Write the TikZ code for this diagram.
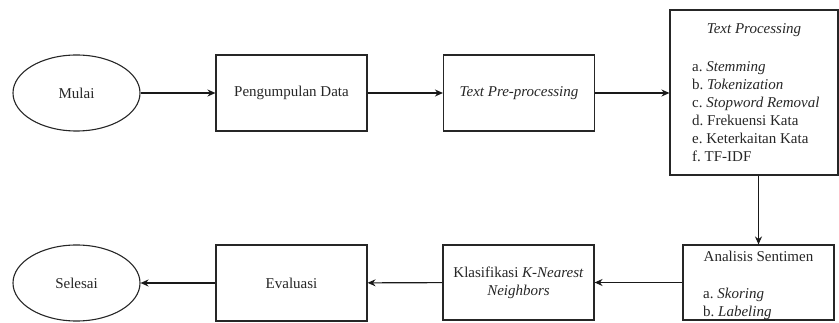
\documentclass[tikz,border=0pt]{standalone}
\usepackage{fontspec}
\setmainfont{Liberation Serif}
\usetikzlibrary{arrows.meta,shapes.geometric}
\frenchspacing
\begin{document}
\begin{tikzpicture}[x=1pt,y=-1pt,
  every node/.style={font=\rmfamily\frenchspacing\fontsize{15}{18}\selectfont, text=black!85},
  box/.style={draw=black!85, line width=1.1pt, minimum width=151pt, minimum height=76pt, inner sep=0pt},
  oval/.style={draw=black!85, line width=1.1pt, ellipse, minimum width=127pt, minimum height=76pt, inner sep=0pt},
  txt/.style={inner sep=0pt, anchor=north west},
  arr/.style={-{Stealth[length=8pt,width=7pt]}, line width=1.1pt, draw=black!90}]
\useasboundingbox (0,0) rectangle (839,323);
\node[oval] (mulai) at (76.5,93) {Mulai};
\node[box] (kumpul) at (291.5,93) {Pengumpulan Data};
\node[box] (pre) at (519,93) {\textit{Text Pre-processing}};
\node[box, minimum width=168pt, minimum height=165pt] (proc) at (754,92.5) {};
\node[inner sep=0pt, anchor=base] (proct) at (754,34) {\textit{Text Processing}};
\node[txt, align=left] (procl) at (692,61) {a. \textit{Stemming}\\ b. \textit{Tokenization}\\ c. \textit{Stopword Removal}\\ d. Frekuensi Kata\\ e. Keterkaitan Kata\\ f. TF-IDF};
\node[box, minimum height=75pt] (anal) at (758.5,282.5) {};
\node[inner sep=0pt, anchor=base] (analt) at (758.5,262) {Analisis Sentimen};
\node[txt, align=left] (anall) at (703,288) {a. \textit{Skoring}\\ b. \textit{Labeling}};
\node[box, minimum height=75pt, align=center] (knn) at (518.5,282.5) {Klasifikasi \textit{K-Nearest}\\ \textit{Neighbors}};
\node[box] (eval) at (291.5,283) {Evaluasi};
\node[oval] (selesai) at (76.5,283) {Selesai};
\draw[arr] (mulai) -- (kumpul);
\draw[arr] (kumpul) -- (pre);
\draw[arr] (pre) -- (pre -| proc.west);
\draw[arr] (proc.south -| anal.north) -- (anal.north);
\draw[arr] (anal) -- (knn);
\draw[arr] (knn) -- (eval);
\draw[arr] (eval) -- (selesai);
\end{tikzpicture}
\end{document}
